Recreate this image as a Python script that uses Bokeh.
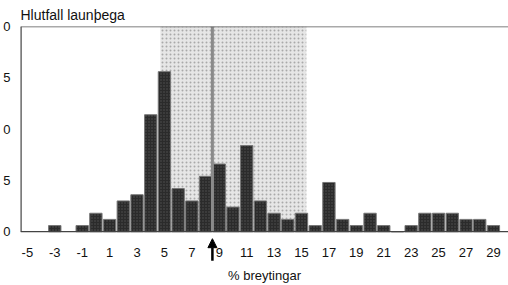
from bokeh.plotting import figure
from bokeh.models import BoxAnnotation, Span, Arrow, NormalHead, FixedTicker, Range1d
from bokeh.embed import file_html
from bokeh.resources import INLINE

# data
changes = [-3, -1, 0, 1, 2, 3, 4, 5, 6, 7, 8, 9, 10, 11, 12, 13, 14, 15,
           16, 17, 18, 19, 20, 21, 22, 23, 24, 25, 26, 27, 28, 29]
shares = [0.6, 0.6, 1.8, 1.2, 3.0, 3.6, 11.4, 15.6, 4.2, 3.0, 5.4, 6.6, 2.4, 8.4, 3.0, 1.8,
          1.2, 1.8, 0.6, 4.8, 1.2, 0.6, 1.8, 0.6, 0.0, 0.6, 1.8, 1.8, 1.8, 1.2, 1.2, 0.6]
x_ticks = [-5, -3, -1, 1, 3, 5, 7, 9, 11, 13, 15, 17, 19, 21, 23, 25, 27, 29]
x_tick_text = {t: str(t) for t in x_ticks}
y_ticks = [0, 5, 10, 15, 20]
y_tick_text = {0: "0", 5: "5", 10: "0", 15: "5", 20: "0"}
band_lo, band_hi = 4.7, 15.35
median_change = 8.5
y_max = 20

FONT = "Liberation Sans"
X0, X1 = -5.5, 30.1

p = figure(width=508, height=285, output_backend="svg", toolbar_location=None,
           x_range=Range1d(X0, X1), y_range=Range1d(-3, y_max),
           min_border_left=18, min_border_right=0, min_border_top=26, min_border_bottom=23,
           title="Hlutfall launþega")
p.title.align = "left"
p.title.text_font = FONT
p.title.text_font_size = "14px"
p.title.text_font_style = "normal"
p.title.text_color = "#111111"
p.title.standoff = 7
p.title.offset = 0

p.grid.visible = False
p.outline_line_color = None
p.background_fill_color = "white"
p.border_fill_color = "white"

band = BoxAnnotation(left=band_lo, right=band_hi, bottom=0, top=y_max,
                     fill_color="#e6e6e6", fill_alpha=1.0,
                     hatch_pattern="dot", hatch_color="#9a9a9a", hatch_scale=4, hatch_alpha=0.8,
                     line_color=None, level="underlay")
p.add_layout(band)

p.vbar(x=changes, top=shares, width=0.9, fill_color="#2b2b2b",
       line_color="#777777", line_width=1,
       hatch_pattern="dot", hatch_color="#6a6a6a", hatch_scale=3, hatch_alpha=0.6)

# median line
p.segment(x0=[median_change], y0=[0], x1=[median_change], y1=[y_max],
          line_color="#8a8a8a", line_width=3)
# frame lines: top, baseline, left axis
p.add_layout(Span(location=y_max, dimension="width", line_color="#555555", line_width=1.5))
p.segment(x0=[X0], y0=[0], x1=[X1], y1=[0], line_color="#444444", line_width=1.3)
p.segment(x0=[X0], y0=[0], x1=[X0], y1=[y_max], line_color="#444444", line_width=2.4)

# arrow under the median
p.add_layout(Arrow(x_start=median_change, y_start=-2.83, x_end=median_change, y_end=-0.68,
                   line_color="black", line_width=2.5,
                   end=NormalHead(size=9, fill_color="black", line_color="black")))

p.xaxis.ticker = FixedTicker(ticks=x_ticks)
p.xaxis.major_label_overrides = x_tick_text
p.yaxis.ticker = FixedTicker(ticks=y_ticks)
p.yaxis.major_label_overrides = y_tick_text
p.xaxis.axis_label = "% breytingar"

for ax in (p.xaxis, p.yaxis):
    ax.axis_line_color = None
    ax.major_tick_out = 0
    ax.major_tick_in = 0
    ax.minor_tick_out = 0
    ax.minor_tick_in = 0
    ax.major_label_text_font = FONT
    ax.major_label_text_font_size = "13px"
    ax.major_label_text_color = "#111111"

p.xaxis.major_label_standoff = -15
p.xaxis.axis_label_standoff = 8
p.xaxis.axis_label_text_font = FONT
p.xaxis.axis_label_text_font_size = "13px"
p.xaxis.axis_label_text_font_style = "normal"
p.xaxis.axis_label_text_color = "#111111"
p.yaxis.major_label_standoff = 10

open("out.html", "w").write(file_html(p, INLINE))
